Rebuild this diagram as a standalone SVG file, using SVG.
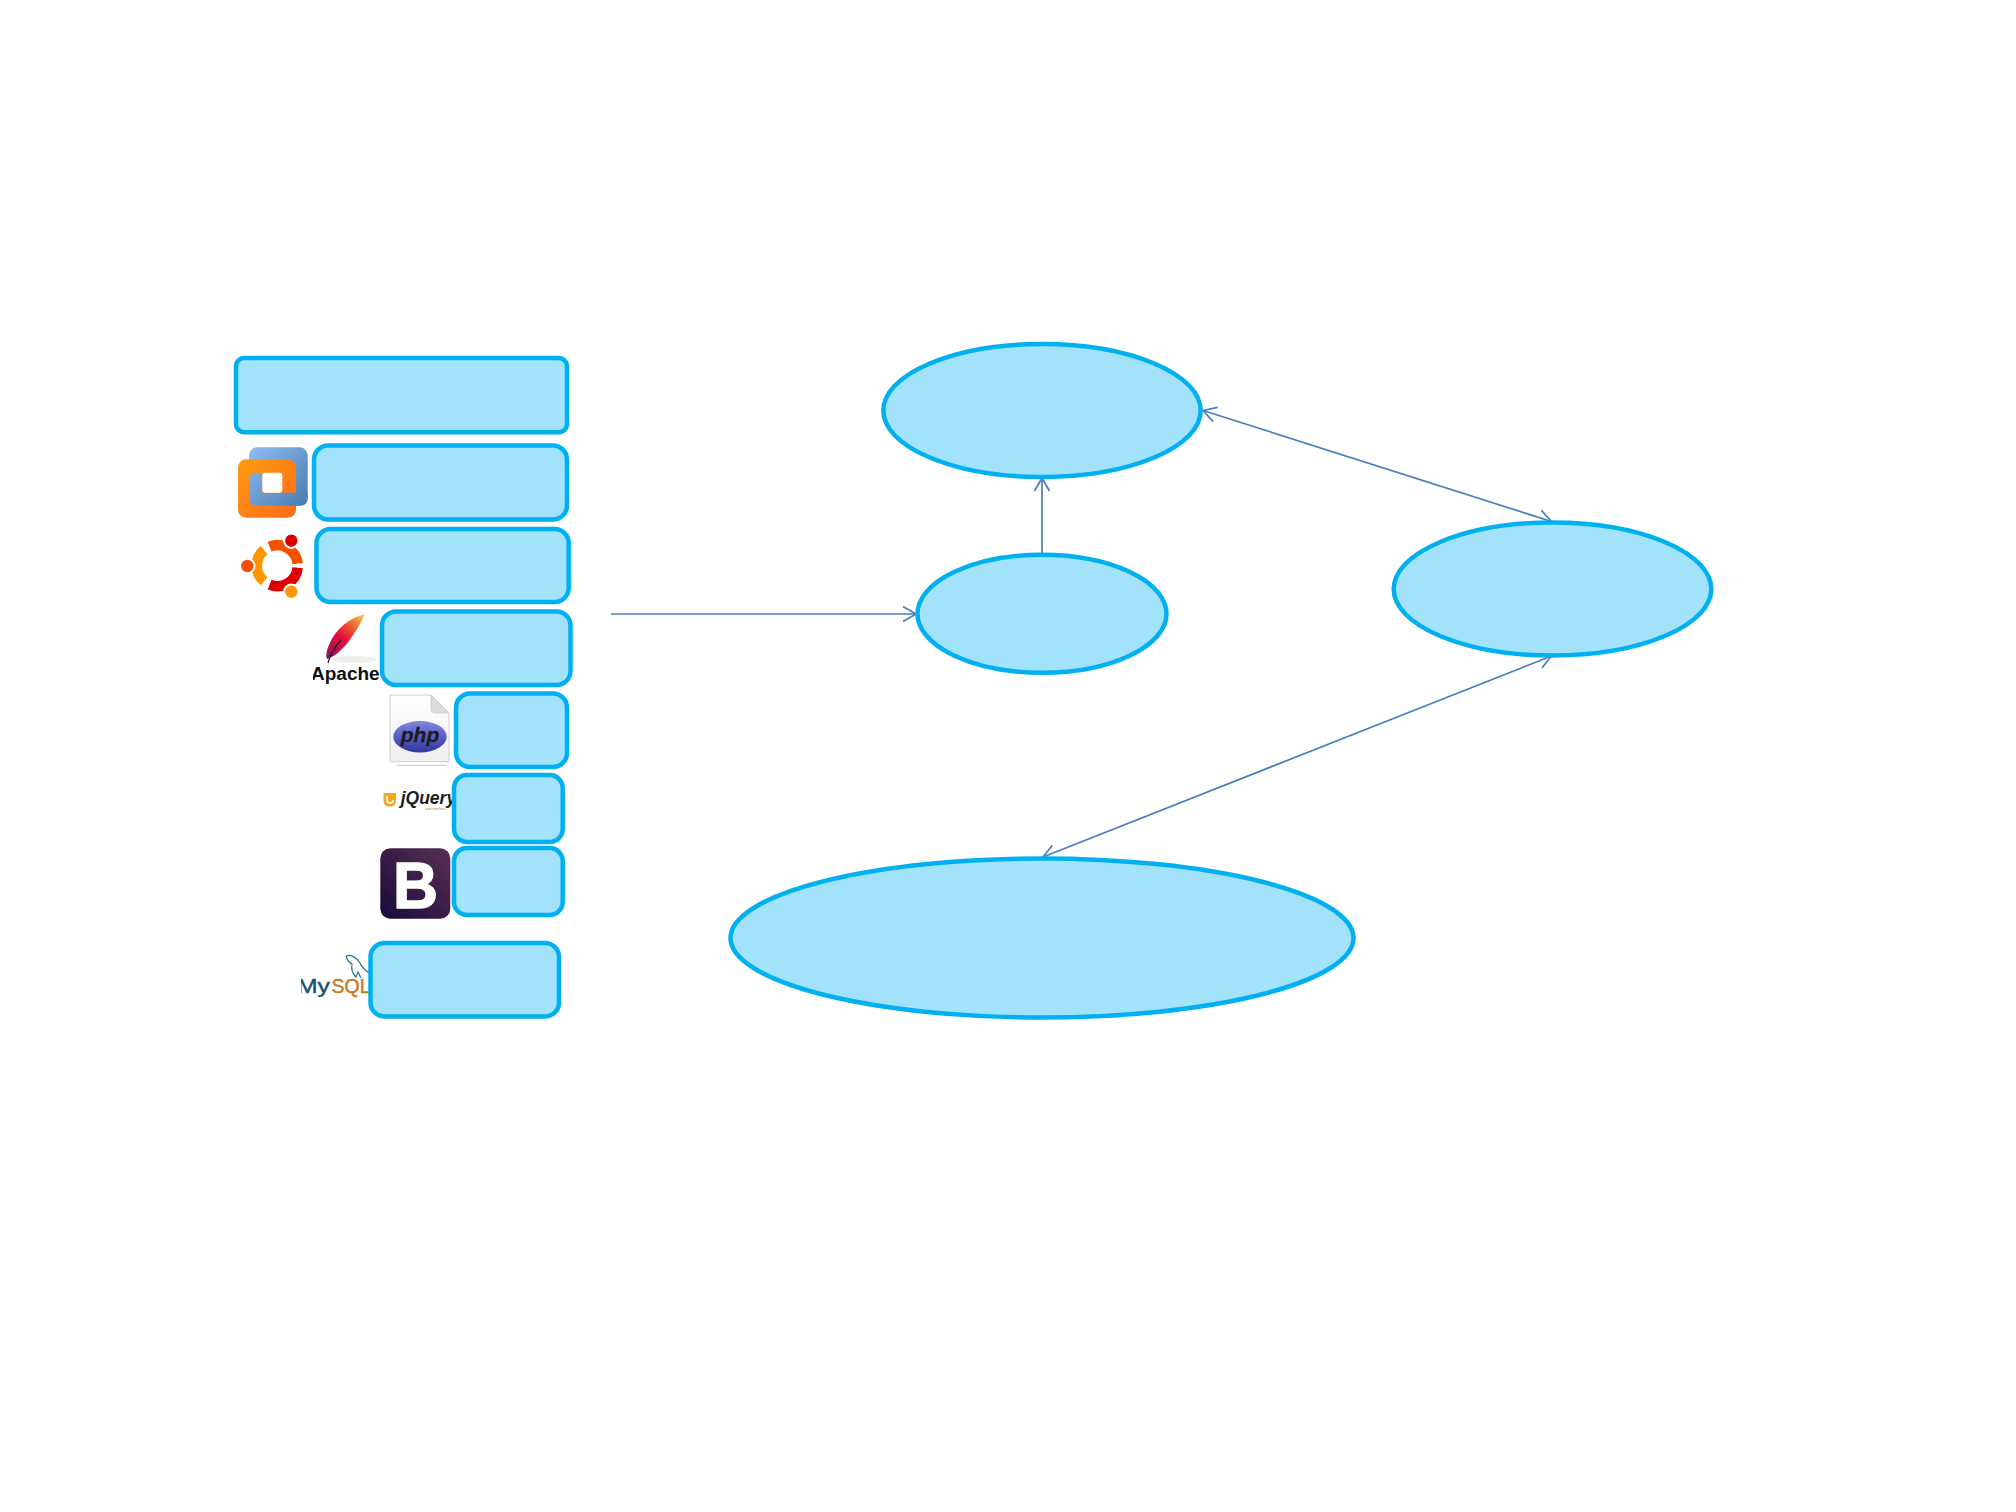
<svg xmlns="http://www.w3.org/2000/svg" width="2016" height="1512" viewBox="0 0 2016 1512">
<style>
.box{fill:#a2e2fa;stroke:#00b0f0;stroke-width:4.5}
.conn{fill:none;stroke:#4a7ebb;stroke-width:1.7}
.head{fill:none;stroke:#4a7ebb;stroke-width:1.7}
text{font-family:"Liberation Sans",Arial,sans-serif}
</style>
<defs>
<marker id="end" markerUnits="userSpaceOnUse" markerWidth="30" markerHeight="30" refX="15" refY="15" orient="auto"><path class="head" d="M2,7.5L15,15L2,22.5"/></marker>
<marker id="start" markerUnits="userSpaceOnUse" markerWidth="30" markerHeight="30" refX="15" refY="15" orient="auto"><path class="head" d="M28,7.5L15,15L28,22.5"/></marker>
<linearGradient id="vmBlue" gradientUnits="userSpaceOnUse" x1="249" y1="447" x2="307" y2="505"><stop offset="0" stop-color="#8fbdf5"/><stop offset="1" stop-color="#4a7cae"/></linearGradient>
<linearGradient id="vmOrange" gradientUnits="userSpaceOnUse" x1="238" y1="459" x2="296" y2="518"><stop offset="0" stop-color="#ff9c10"/><stop offset="1" stop-color="#ff6a1a"/></linearGradient>
<linearGradient id="feather" gradientUnits="userSpaceOnUse" x1="365" y1="614" x2="328" y2="660"><stop offset="0" stop-color="#f6d868"/><stop offset=".25" stop-color="#f0702c"/><stop offset=".55" stop-color="#e2103c"/><stop offset=".85" stop-color="#a8124f"/><stop offset="1" stop-color="#6a1a70"/></linearGradient>
<linearGradient id="page" x1="0" y1="0" x2="0" y2="1"><stop offset="0" stop-color="#ffffff"/><stop offset="1" stop-color="#eeeeee"/></linearGradient>
<linearGradient id="phpOval" x1="0" y1="0" x2="0" y2="1"><stop offset="0" stop-color="#8288e2"/><stop offset="1" stop-color="#3036a0"/></linearGradient>
<linearGradient id="bs" x1="0" y1="1" x2="1" y2="0"><stop offset="0" stop-color="#170a3c"/><stop offset="1" stop-color="#5a2f55"/></linearGradient>
<clipPath id="mysqlClip"><rect x="301" y="950" width="72" height="60"/></clipPath>
<clipPath id="apacheClip"><rect x="313" y="660" width="70" height="30"/></clipPath>
</defs>

<g id="logo-vmware">
<rect x="249" y="447.3" width="58.7" height="58.4" rx="8" fill="url(#vmBlue)"/>
<rect x="238" y="459.3" width="58" height="58.4" rx="8" fill="url(#vmOrange)"/>
<path d="M258,472.7H262.3V492.7H307.7V498Q307.7,505.7 300,505.7H257Q249,505.7 249,498V481Q249,472.7 258,472.7Z" fill="url(#vmBlue)"/>
<rect x="262.3" y="472.7" width="20" height="20" rx="3" fill="#fff"/>
</g>
<g id="logo-ubuntu" fill="none" stroke-width="10.5">
<path d="M269.6,546.7A20.5,20.5 0 0 1 297.7,563.6" stroke="#f55000"/>
<path d="M297.7,567.8A20.5,20.5 0 0 1 269.6,584.7" stroke="#dd0000"/>
<path d="M264,581.3A20.5,20.5 0 0 1 264,550.1" stroke="#ff9500"/>
<g stroke="#fff" stroke-width="2">
<circle cx="291.3" cy="540.7" r="7.2" fill="#dd0000"/>
<circle cx="247.3" cy="566" r="7.2" fill="#f55000"/>
<circle cx="291.3" cy="591.7" r="7.2" fill="#ff9500"/>
</g>
</g>
<g id="logo-apache">
<ellipse cx="353" cy="659.5" rx="23" ry="3.6" fill="#eeeeea"/>
<path d="M365,614.3C351,617 336,628 329,645C326,652 326,656 327,659C340,655 352,640 365,614.3Z" fill="url(#feather)"/>
<path d="M341,640C335,647 330,654 328,663" fill="none" stroke="#2a1020" stroke-width="1.2"/>
<text x="311" y="680" font-size="19" font-weight="bold" fill="#111" clip-path="url(#apacheClip)">Apache</text>
</g>
<g id="logo-php">
<path d="M390,695H431L449,713V761.7H390Z" fill="url(#page)" stroke="#cfcfcf" stroke-width="1"/>
<path d="M431,695V709Q431,713 435,713H449Z" fill="#ddd" stroke="#c8c8c8" stroke-width=".8"/>
<path d="M396.7,765.3H446.7" stroke="#c4c4c4" stroke-width="1"/>
<ellipse cx="420" cy="736.7" rx="26.7" ry="15.7" fill="url(#phpOval)"/>
<text x="420" y="741.5" font-size="21" font-weight="bold" font-style="italic" text-anchor="middle" fill="#1c1c24" stroke="#1c1c24" stroke-width=".3">php</text>
</g>
<g id="logo-jquery">
<path d="M383.5,793H396V800Q396,806.7 389.7,806.7Q383.5,806.7 383.5,800Z" fill="#f7a823"/>
<path d="M387,796V800Q387,803 390,803Q393,803 393,800" fill="none" stroke="#fff" stroke-width="1.6"/>
<text x="400.7" y="804" font-size="17.5" font-weight="bold" font-style="italic" fill="#1c1c1c">jQuery</text>
<text x="425" y="809.5" font-size="3.4" fill="#a8803c">user interface</text>
</g>
<g id="logo-bootstrap">
<rect x="380.3" y="848.3" width="70" height="70.4" rx="10" fill="url(#bs)"/>
<text x="393" y="908" font-size="64" font-weight="bold" fill="#fff" stroke="#fff" stroke-width="1.4" textLength="45" lengthAdjust="spacingAndGlyphs">B</text>
</g>
<g id="logo-mysql">
<path d="M346,956C351,954 357,958 360,963C362,968 365,970 369,973M346,956C347,960 350,963 352,964C351,969 353,974 356,977L358,972L361,978" fill="none" stroke="#2c6f90" stroke-width="1.2"/>
<g clip-path="url(#mysqlClip)">
<text x="297" y="993.3" font-size="20" fill="#14506e" stroke="#14506e" stroke-width=".4" textLength="33" lengthAdjust="spacingAndGlyphs">My</text>
<text x="331.5" y="993.3" font-size="19.5" fill="#c8781e" stroke="#c8781e" stroke-width=".4" textLength="39" lengthAdjust="spacingAndGlyphs">SQL</text>
</g>
</g>

<g id="connectors">
<line class="conn" x1="611" y1="614" x2="916" y2="614" marker-end="url(#end)"/>
<line class="conn" x1="1042" y1="553" x2="1042" y2="478" marker-end="url(#end)"/>
<line class="conn" x1="1203" y1="410.5" x2="1551.5" y2="521.5" marker-start="url(#start)" marker-end="url(#end)"/>
<line class="conn" x1="1551.5" y1="656" x2="1043" y2="857" marker-start="url(#start)" marker-end="url(#end)"/>
</g>

<g id="box-1"><rect class="box" x="236" y="358" width="331" height="74.3" rx="8"/></g>
<g id="box-2"><rect class="box" x="314" y="445.5" width="253" height="74" rx="14"/></g>
<g id="box-3"><rect class="box" x="316.5" y="529" width="252.2" height="73" rx="14"/></g>
<g id="box-4"><rect class="box" x="382" y="611.5" width="188.5" height="73.5" rx="14"/></g>
<g id="box-5"><rect class="box" x="456" y="693.5" width="111" height="73.5" rx="14"/></g>
<g id="box-6"><rect class="box" x="454" y="775" width="108.7" height="67" rx="13"/></g>
<g id="box-7"><rect class="box" x="454" y="848" width="108.7" height="67" rx="13"/></g>
<g id="box-8"><rect class="box" x="370.5" y="943" width="188.5" height="73.5" rx="14"/></g>

<g id="ellipse-1"><ellipse class="box" cx="1042" cy="410.5" rx="158.7" ry="66.5"/></g>
<g id="ellipse-2"><ellipse class="box" cx="1042" cy="613.8" rx="124.5" ry="59"/></g>
<g id="ellipse-3"><ellipse class="box" cx="1552.5" cy="589" rx="158.8" ry="66.5"/></g>
<g id="ellipse-4"><ellipse class="box" cx="1042" cy="938" rx="311.5" ry="79.5"/></g>
</svg>
